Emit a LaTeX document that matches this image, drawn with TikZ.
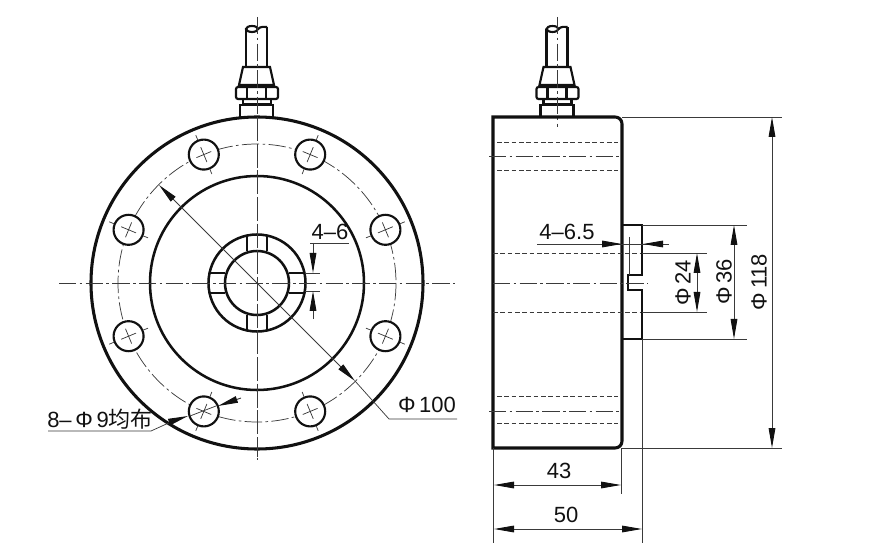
\documentclass[tikz,border=0pt]{standalone}
\usepackage{fontspec}
\setmainfont{Liberation Sans}
\newfontfamily\cjk{Noto Sans CJK SC}
\usetikzlibrary{arrows.meta}
\definecolor{inkc}{HTML}{111111}
\definecolor{dimc}{HTML}{3A3A3A}
\begin{document}
\begin{tikzpicture}[
  x=0.75pt,y=-0.75pt,
  outline/.style={line width=2.3pt,draw=inkc},
  partl/.style={line width=1.6pt,draw=inkc},
  thinl/.style={line width=0.55pt,draw=dimc},
  centerl/.style={line width=0.55pt,draw=dimc,dash pattern=on 13pt off 2.5pt on 2pt off 2.5pt},
  hidden/.style={line width=0.55pt,draw=dimc,dash pattern=on 3.5pt off 2pt},
  dimline/.style={line width=0.7pt,draw=dimc,{Stealth[length=15pt,width=5pt,inset=0pt,color=inkc]}-{Stealth[length=15pt,width=5pt,inset=0pt,color=inkc]}},
  tipend/.style={line width=0.7pt,draw=dimc,-{Stealth[length=15pt,width=5pt,inset=0pt,color=inkc]}},
  dimtext/.style={inner sep=0,text=inkc,font=\fontsize{16.5}{18}\selectfont}
  ]
  \useasboundingbox (0,0) rectangle (879,549);
  %
  % Cable gland, same on both views
  %
  \foreach \dx/\len in {0/457,300.5/127}{
    \begin{scope}[shift={(\dx,0)}]
      \draw[partl] (246,29) -- (246,67) (267,27) -- (267,67);
      \draw[partl] (252,29) ellipse (6 and 3);
      \draw[partl] (258,29) .. controls (261,26) and (264,27) .. (267,27);
      \draw[partl] (243,67) -- (270,67) -- (274,85) -- (239,85) -- cycle;
      \draw[partl,rounded corners=1.5pt] (236,87) rectangle (278,99);
      \draw[partl] (247,87) -- (247,99) (266,87) -- (266,99);
      \draw[partl] (243,99) rectangle (271,104);
      \draw[partl] (240,117) -- (240,105) -- (273,105) -- (273,117);
      \draw[centerl] (257,17) -- (257,\len);
    \end{scope}
  }
  %
  % Front view
  %
  \draw[outline] (257,283) circle (166);
  \draw[partl,line width=1.9pt] (257,283) circle (107);
  \draw[partl,line width=1.9pt] (257,283) circle (48.5);
  \draw[partl,line width=1.9pt] (257,283) circle (32);
  \draw[centerl] (257,283) circle (139);
  \draw[centerl] (59,283) -- (455,283);
  \draw[centerl] (257,117) -- (257,460);
  % keyways
  \foreach \ang in {0,90,180,270}{
    \draw[partl,rotate around={\ang:(257,283)}] (247,235) -- (247,251) (267,235) -- (267,251);
  }
  % bolt holes
  \foreach \ang in {22.5,67.5,...,337.5}{
    \begin{scope}[shift={(257,283)},rotate=\ang]
      \draw[partl,fill=white] (139,0) circle (15);
      \draw[thinl] (118,0) -- (123,0) (155,0) -- (160,0);
      \draw[thinl] (131,0) -- (147,0) (139,-8) -- (139,8);
    \end{scope}
  }
  % 8-hole dimension
  \node(holetext)[dimtext,anchor=base west] at (47,427) {8–\,Φ\,9{\cjk 均布}};
  \draw[thinl] (48,431) -- (151,431) -- (173,421);
  \draw[tipend] (171,421.5) -- (188,416);
  \draw[tipend] (241,398) -- (218,406);
  \draw[thinl] (190,416) -- (216,406);
  % pitch circle dimension
  \node(pitchtext)[dimtext,anchor=base] at (427,412) {Φ\,100};
  \draw[dimline] (159,185) -- (355,381);
  \draw[thinl] (355,381) -- (389,419) -- (457,419);
  % slot width
  \node(slottext)[dimtext,anchor=base] at (330,240) {4–6};
  \draw[thinl] (310,243) -- (349,243);
  \draw[thinl] (305,273) -- (320,273) (305,291) -- (320,291);
  \draw[tipend] (313,243) -- (313,273);
  \draw[tipend] (313,319) -- (313,291);
  %
  % Side view
  %
  \draw[outline] (493,117) -- (615,117) .. controls (619,117) and (622,120) .. (622,124) -- (622,441) .. controls (622,445) and (619,448) .. (615,448) -- (493,448) -- cycle;
  \draw[partl,line width=1.9pt] (622,225) -- (642,225) -- (642,275) -- (628,275) -- (628,290) -- (642,290) -- (642,339) -- (622,339);
  \draw[hidden] (497,142) -- (618,142) (497,170) -- (618,170);
  \draw[hidden] (497,396) -- (618,396) (497,423) -- (618,423);
  \draw[hidden] (493,253) -- (640,253) (493,312) -- (640,312);
  \draw[centerl] (489,156) -- (620,156);
  \draw[centerl] (489,411) -- (620,411);
  \draw[centerl] (493,283) -- (648,283);
  % extension lines
  \draw[thinl] (622,117) -- (782,117) (622,448) -- (782,448);
  \draw[thinl] (642,225) -- (747,225) (642,339) -- (747,339);
  \draw[thinl] (642,253) -- (707,253) (642,312) -- (707,312);
  \draw[thinl] (493,448) -- (493,543) (642,339) -- (642,543) (621,448) -- (621,494);
  \draw[thinl] (629,237) -- (629,275);
  % diameters
  \draw[dimline] (697,253) -- (697,312);
  \draw[dimline] (734,225) -- (734,339);
  \draw[dimline] (772,117) -- (772,448);
  \node(dia24) [dimtext,rotate=90,anchor=center] at (683,283) {Φ\,24};
  \node(dia36) [dimtext,rotate=90,anchor=center] at (724,282) {Φ\,36};
  \node(dia118)[dimtext,rotate=90,anchor=center] at (759,282) {Φ\,118};
  % protrusion
  \node(steptext)[dimtext,anchor=base] at (567,240) {4–6.5};
  \draw[thinl] (537,244) -- (669,244);
  \draw[tipend] (605,244) -- (622,244);
  \draw[tipend] (662,244) -- (643,244);
  % lengths
  \draw[dimline] (494,485) -- (621,485);
  \draw[dimline] (494,529) -- (642,529);
  \node(len43)[dimtext,anchor=base] at (559,478) {43};
  \node(len50)[dimtext,anchor=base] at (566,522) {50};
\end{tikzpicture}
\end{document}
